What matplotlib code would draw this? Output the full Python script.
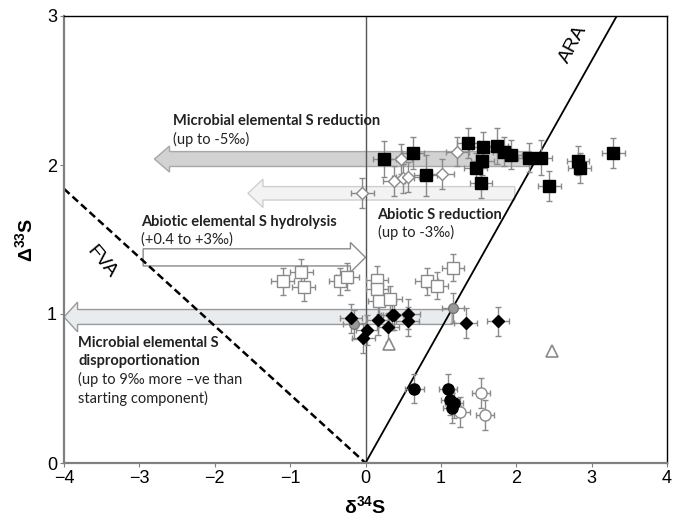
import matplotlib
matplotlib.use('Agg')
import matplotlib.pyplot as plt
from matplotlib.patches import FancyArrow

plt.rcParams['font.family'] = ['Liberation Sans', 'DejaVu Sans']
plt.rcParams['mathtext.fontset'] = 'custom'
plt.rcParams['mathtext.rm'] = 'Liberation Sans'
plt.rcParams['mathtext.bf'] = 'Liberation Sans:bold'
plt.rcParams['mathtext.default'] = 'bf'

# black squares
sq_x = [0.25, 0.63, 0.80, 1.36, 1.56, 1.74, 1.84, 1.93, 1.55, 1.46, 1.53, 2.17, 2.33, 2.44, 2.82, 2.84, 3.29]
sq_y = [2.04, 2.08, 1.93, 2.15, 2.12, 2.13, 2.09, 2.07, 2.03, 1.98, 1.88, 2.05, 2.05, 1.86, 2.03, 1.98, 2.08]
sq_ye = [0.12, 0.11, 0.14, 0.1, 0.1, 0.12, 0.1, 0.1, 0.1, 0.1, 0.1, 0.1, 0.12, 0.1, 0.1, 0.1, 0.1]

# white diamonds
wd_x = [1.22, 0.47, 0.38, 0.50, 0.56, 1.02, -0.04]
wd_y = [2.09, 2.04, 1.89, 1.91, 1.92, 1.94, 1.81]

# white squares
ws_x = [-1.10, -0.85, -0.82, -0.34, -0.24, 0.15, 0.15, 0.18, 0.33, 0.81, 0.95, 1.16]
ws_y = [1.22, 1.28, 1.18, 1.22, 1.25, 1.23, 1.17, 1.09, 1.10, 1.22, 1.19, 1.31]

# black diamonds
bd_x = [-0.19, 0.02, -0.03, 0.16, 0.30, 0.35, 0.38, 0.57, 0.56, 1.33, 1.76]
bd_y = [0.97, 0.89, 0.84, 0.96, 0.91, 0.99, 0.99, 1.00, 0.95, 0.94, 0.95]

# grey circles
gc_x = [-0.15, 1.16]
gc_y = [0.93, 1.04]

# black circles
bc_x = [0.65, 1.10, 1.12, 1.17, 1.15]
bc_y = [0.50, 0.50, 0.42, 0.40, 0.37]

# white circles
wc_x = [1.53, 1.26, 1.59]
wc_y = [0.47, 0.34, 0.32]

# white triangles (no error bars)
tr_x = [0.31, 2.48]
tr_y = [0.80, 0.75]

ara_slope = 0.9
fva_slope = -0.46

fig = plt.figure(figsize=(6.76, 5.21), dpi=100)
ax = fig.add_axes([64 / 676, 1 - 463 / 521, 603 / 676, 447 / 521])
ax.set_xlim(-4, 4)
ax.set_ylim(0, 3)

# process arrows
ax.add_patch(FancyArrow(2.2, 2.04, -5.0, 0, width=0.10, head_width=0.175, head_length=0.2,
                        length_includes_head=True, fc='#d2d2d2', ec='#a8a8a8', lw=1, zorder=1))
ax.add_patch(FancyArrow(1.98, 1.81, -3.54, 0, width=0.09, head_width=0.19, head_length=0.2,
                        length_includes_head=True, fc='#f3f3f3', ec='#cfcfcf', lw=1, zorder=1))
ax.add_patch(FancyArrow(-2.95, 1.38, 2.95, 0, width=0.115, head_width=0.2, head_length=0.2,
                        length_includes_head=True, fc='white', ec='#8a8a8a', lw=1, zorder=1))
ax.add_patch(FancyArrow(1.15, 0.98, -5.15, 0, width=0.10, head_width=0.2, head_length=0.18,
                        length_includes_head=True, fc='#e8ecef', ec='#9a9a9a', lw=1, zorder=1))

# reference lines
ax.axvline(0, color='#555555', lw=1, zorder=2)
ax.plot([0, 3 / ara_slope], [0, 3], color='black', lw=1.3, zorder=2)
ax.plot([-4, 0], [-4 * fva_slope, 0], color='black', lw=1.8, ls=(0, (3, 1.6)), zorder=2)

eb = dict(ecolor='#8a8a8a', elinewidth=1, capsize=2.5, capthick=1, zorder=3, ls='none')
ax.errorbar(ws_x, ws_y, xerr=0.15, yerr=0.09, fmt='s', ms=8, mfc='white', mec='#8a8a8a', mew=1, **eb)
ax.errorbar(wd_x, wd_y, xerr=0.15, yerr=0.1, fmt='D', ms=6.5, mfc='white', mec='#8a8a8a', mew=1, **eb)
ax.errorbar(sq_x, sq_y, xerr=0.15, yerr=sq_ye, fmt='s', ms=8, mfc='black', mec='black', **eb)
ax.errorbar(gc_x, gc_y, xerr=0.15, yerr=0.1, fmt='o', ms=7, mfc='#999999', mec='#777777', **eb)
ax.errorbar(bd_x, bd_y, xerr=0.15, yerr=0.1, fmt='D', ms=6.5, mfc='black', mec='black', **eb)
ax.errorbar(wc_x, wc_y, xerr=0.12, yerr=0.1, fmt='o', ms=8, mfc='white', mec='#8a8a8a', mew=1, **eb)
ax.errorbar(bc_x, bc_y, xerr=0.12, yerr=0.1, fmt='o', ms=8, mfc='black', mec='black', **eb)
ax.plot(tr_x, tr_y, '^', ms=9, mfc='white', mec='#8a8a8a', mew=1.2, ls='none', zorder=4)

# annotations
tf = ['Lato', 'DejaVu Sans']
ax.text(-2.55, 2.34, 'Microbial elemental S reduction', fontsize=10.5, fontweight='bold', family=tf, va='top', color='#222222')
ax.text(-2.55, 2.22, '(up to -5‰)', fontsize=10.5, family=tf, va='top', color='#222222')
ax.text(-2.98, 1.665, 'Abiotic elemental S hydrolysis', fontsize=10.5, fontweight='bold', family=tf, va='top', color='#222222')
ax.text(-2.98, 1.55, '(+0.4 to +3‰)', fontsize=10.5, family=tf, va='top', color='#222222')
ax.text(0.16, 1.71, 'Abiotic S reduction', fontsize=10.5, fontweight='bold', family=tf, va='top', color='#222222')
ax.text(0.16, 1.595, '(up to -3‰)', fontsize=10.5, family=tf, va='top', color='#222222')
ax.text(-3.81, 0.85, 'Microbial elemental S\ndisproportionation', fontsize=10.5, fontweight='bold',
        family=tf, va='top', linespacing=1.3, color='#222222')
ax.text(-3.81, 0.61, '(up to 9‰ more \u2013ve than\nstarting component)', fontsize=10.5,
        family=tf, va='top', linespacing=1.3, color='#222222')
ax.text(-3.5, 1.35, 'FVA', fontsize=14, rotation=-50, ha='center', va='center')
ax.text(2.76, 2.81, 'ARA', fontsize=14, rotation=62, ha='center', va='center')

# axes styling
for s in ['left', 'bottom']:
    ax.spines[s].set_color('#808080')
    ax.spines[s].set_linewidth(1.6)
for s in ['top', 'right']:
    ax.spines[s].set_color('black')
    ax.spines[s].set_linewidth(1)
ax.set_xticks(range(-4, 5))
ax.set_yticks(range(0, 4))
ax.tick_params(direction='out', length=3, color='#808080', labelsize=13, pad=2)
ax.set_xlabel('δ$^{34}$S', fontsize=14, fontweight='bold', labelpad=6)
ax.set_ylabel('Δ$^{33}$S', fontsize=14, fontweight='bold', labelpad=8)

fig.savefig('out.png', dpi=100)
